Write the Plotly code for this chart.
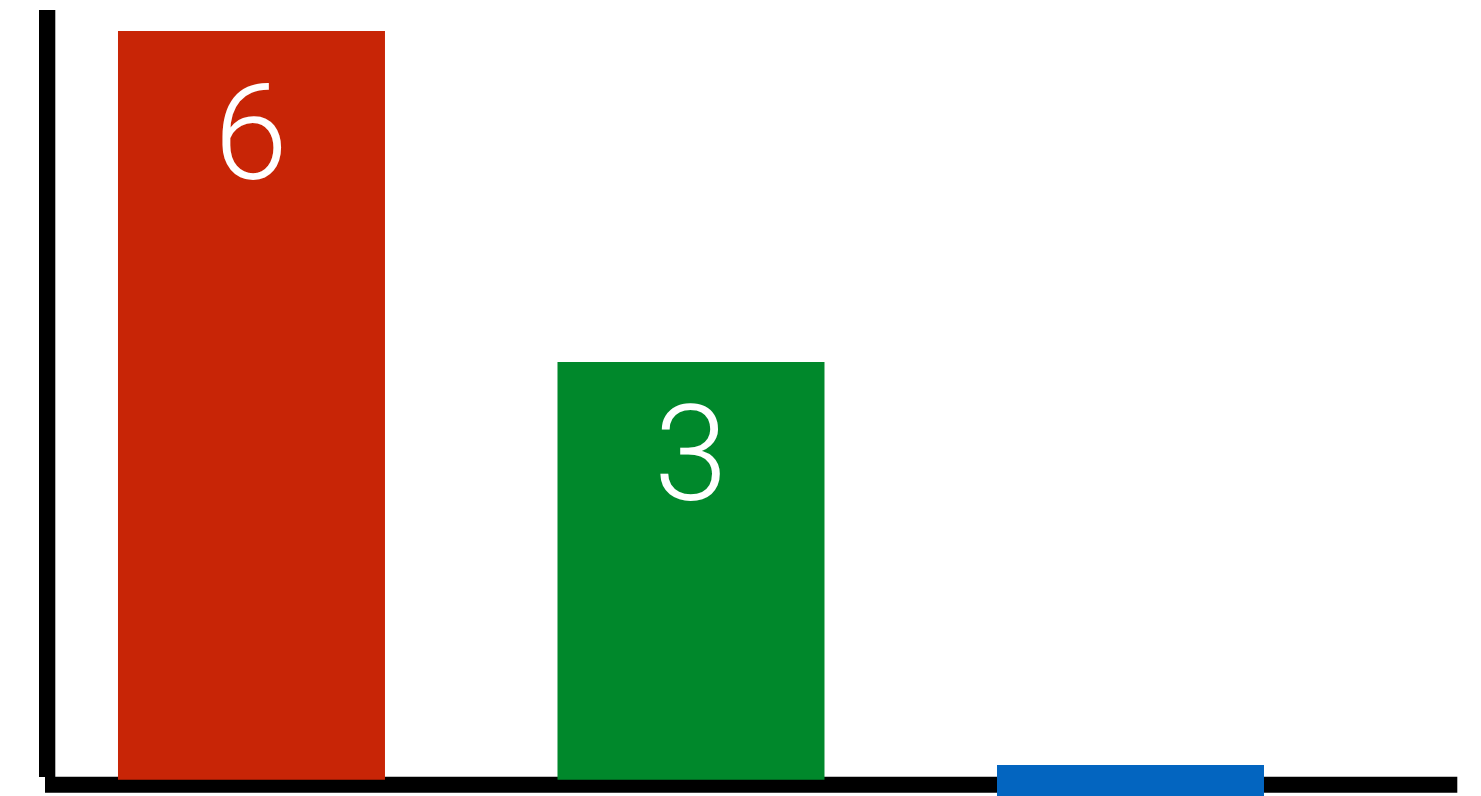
import plotly.graph_objects as go

# Data
categories = [0, 1, 2]
values = [6, 3, -0.6525]            # top of each bar (axis units)
bases = [-0.7858, -0.7858, -1.0]    # bottom of each bar (axis units)
labels = ["6", "3", ""]
colors = ["#C82506", "#00882B", "#0365C0"]

lengths = [v - b for v, b in zip(values, bases)]

W, H = 1481, 796


def px_x(p):
    return p / W


def px_y(p):
    return 1 - p / H


fig = go.Figure(
    go.Bar(
        x=categories,
        y=lengths,
        base=bases,
        width=0.6075,
        marker=dict(color=colors, line=dict(width=0)),
        hoverinfo="skip",
    )
)

label_shift = [-23, -13]
for c, v, t, s in zip(categories, values, labels, label_shift + [0]):
    if t:
        fig.add_annotation(
            x=c, y=v, text=t, showarrow=False,
            xanchor="center", yanchor="top", yshift=s,
            font=dict(family="Roboto", size=133, color="white", weight=300),
        )

# axis lines (decoration)
fig.add_shape(type="rect", xref="paper", yref="paper", layer="below",
              x0=px_x(39), x1=px_x(55.3), y0=px_y(777), y1=px_y(10),
              fillcolor="black", line=dict(width=0))
fig.add_shape(type="rect", xref="paper", yref="paper", layer="below",
              x0=px_x(45), x1=px_x(1457.3), y0=px_y(792.7), y1=px_y(776.7),
              fillcolor="black", line=dict(width=0))

fig.update_layout(
    width=W,
    height=H,
    margin=dict(l=0, r=0, t=0, b=0),
    paper_bgcolor="white",
    plot_bgcolor="white",
    showlegend=False,
    xaxis=dict(
        range=[-0.5722, 2.7975],
        visible=False,
        fixedrange=True,
    ),
    yaxis=dict(
        range=[-0.9335, 6.281],
        visible=False,
        fixedrange=True,
    ),
)

fig.write_html("out.html", config={"displayModeBar": False})
